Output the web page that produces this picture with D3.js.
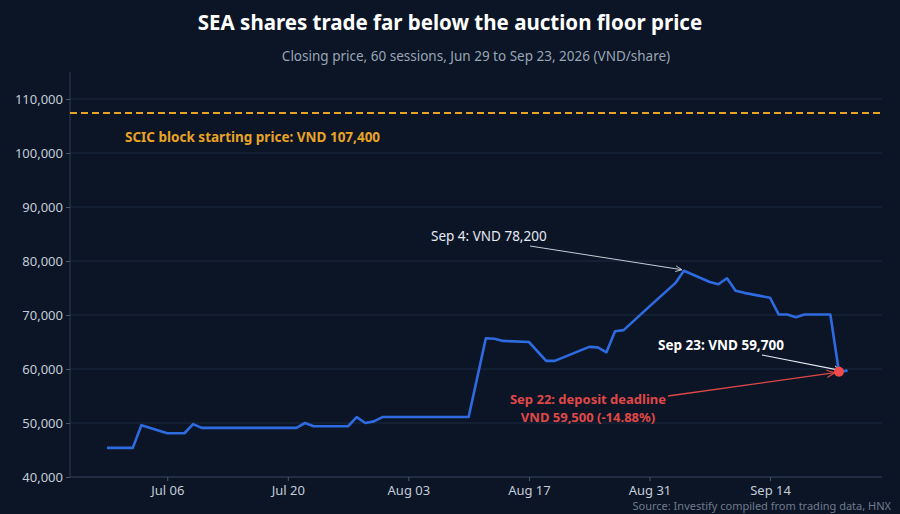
<!DOCTYPE html>
<html><head><meta charset="utf-8">
<script src="https://cdn.jsdelivr.net/npm/d3@7"></script>
<style>body{margin:0;background:#0b1526;font-family:"Noto Sans",sans-serif;}</style>
</head><body><svg id="c" width="900" height="514"></svg>
<script>
const dates = ["2026-06-29","2026-06-30","2026-07-01","2026-07-02","2026-07-03","2026-07-06","2026-07-07","2026-07-08","2026-07-09","2026-07-10",
"2026-07-13","2026-07-14","2026-07-15","2026-07-16","2026-07-17","2026-07-20","2026-07-21","2026-07-22","2026-07-23","2026-07-24",
"2026-07-27","2026-07-28","2026-07-29","2026-07-30","2026-07-31","2026-08-03","2026-08-04","2026-08-05","2026-08-06","2026-08-07",
"2026-08-10","2026-08-12","2026-08-13","2026-08-14","2026-08-17","2026-08-19","2026-08-20","2026-08-24","2026-08-25","2026-08-26",
"2026-08-27","2026-08-28","2026-08-31","2026-09-03","2026-09-04","2026-09-07","2026-09-08","2026-09-09","2026-09-10","2026-09-11",
"2026-09-14","2026-09-15","2026-09-16","2026-09-17","2026-09-18","2026-09-21","2026-09-22","2026-09-23"];
const prices = [45400,45400,45400,45400,49600,48100,48100,48100,49800,49100,
49100,49100,49100,49100,49100,49100,49100,50000,49400,49400,
49400,51100,50000,50300,51100,51100,51100,51100,51100,51100,
51100,65700,65600,65200,65000,61500,61500,64100,64000,63100,
67000,67200,71600,75900,78200,76100,75700,76800,74500,74100,
73200,70100,70100,69600,70100,70100,59500,59700];
const yTicks = [40000,50000,60000,70000,80000,90000,100000,110000];
const xTickDates = ["2026-07-06","2026-07-20","2026-08-03","2026-08-17","2026-08-31","2026-09-14"];
const floorPrice = 107400;

const P = d3.timeParse("%Y-%m-%d");
const data = dates.map((d,i)=>({d:P(d),v:prices[i]}));
const svg = d3.select("#c");
const L=70,R=882,T=72,B=477;
const x = d3.scaleTime().domain([new Date(2026,5,24,17),new Date(2026,8,27)]).range([L,R]);
const y = d3.scaleLinear().domain([40000,115000]).range([B,T]);
const fmt = d3.format(",");

svg.append("g").selectAll("line").data(yTicks).join("line")
 .attr("x1",L).attr("x2",R).attr("y1",d=>y(d)).attr("y2",d=>y(d))
 .attr("stroke","#1c2a3e").attr("stroke-width",1);

const ya = svg.append("g").attr("transform",`translate(${L},0)`)
 .call(d3.axisLeft(y).tickValues(yTicks).tickFormat(fmt).tickSize(4).tickSizeOuter(0));
const xa = svg.append("g").attr("transform",`translate(0,${B})`)
 .call(d3.axisBottom(x).tickValues(xTickDates.map(P)).tickFormat(d3.timeFormat("%b %d")).tickSize(4).tickSizeOuter(0));
[ya,xa].forEach(a=>{a.select(".domain").attr("stroke","#2e3c52").attr("d", a===ya?`M0,${B}V${T}`:`M${L},0H${R}`);
 a.selectAll(".tick line").attr("stroke","#4a5870");
 a.selectAll("text").attr("fill","#c4ccd8").attr("font-size",13).attr("font-family","Noto Sans");});
xa.selectAll("text").attr("dy","0.82em");

svg.append("line").attr("x1",L).attr("x2",R).attr("y1",y(floorPrice)).attr("y2",y(floorPrice))
 .attr("stroke","#e8a325").attr("stroke-width",2).attr("stroke-dasharray","7,4");
svg.append("text").attr("x",125).attr("y",y(floorPrice)+29).attr("fill","#e8a325")
 .attr("font-weight","bold").attr("font-size",13.5).text("SCIC block starting price: VND 107,400");

svg.append("path").datum(data).attr("fill","none").attr("stroke","#2f6be0").attr("stroke-width",2.6)
 .attr("stroke-linejoin","round").attr("d",d3.line().x(d=>x(d.d)).y(d=>y(d.v)));

const defs=svg.append("defs");
[["aw","#c4ccd8"],["ar","#e04848"]].forEach(([id,c])=>defs.append("marker").attr("id",id).attr("viewBox","0 0 10 10")
 .attr("refX",9).attr("refY",5).attr("markerWidth",7).attr("markerHeight",7).attr("orient","auto")
 .append("path").attr("d","M0,1L9,5L0,9").attr("fill","none").attr("stroke",c).attr("stroke-width",1.3));

const peak=data[44], last=data[data.length-1], dl=data[data.length-2];
svg.append("line").attr("x1",530).attr("y1",246).attr("x2",x(peak.d)-2).attr("y2",y(peak.v)-1)
 .attr("stroke","#c4ccd8").attr("stroke-width",1).attr("marker-end","url(#aw)");
svg.append("text").attr("x",431).attr("y",241).attr("fill","#e6ebf2").attr("font-size",13.5).text("Sep 4: VND 78,200");

svg.append("line").attr("x1",762).attr("y1",355).attr("x2",x(last.d)-6).attr("y2",y(last.v))
 .attr("stroke","#e6ebf2").attr("stroke-width",1.2).attr("marker-end","url(#aw)");
svg.append("text").attr("x",658).attr("y",350).attr("fill","#ffffff").attr("font-weight","bold").attr("font-size",13.5).text("Sep 23: VND 59,700");

svg.append("line").attr("x1",668).attr("y1",396).attr("x2",x(dl.d)-4).attr("y2",y(dl.v)+1)
 .attr("stroke","#e04848").attr("stroke-width",1.3).attr("marker-end","url(#ar)");
svg.append("circle").attr("cx",x(dl.d)).attr("cy",y(dl.v)).attr("r",5).attr("fill","#f04a4a");
svg.append("text").attr("x",588).attr("y",404).attr("fill","#e04848").attr("font-weight","bold").attr("font-size",13).attr("text-anchor","middle").text("Sep 22: deposit deadline");
svg.append("text").attr("x",588).attr("y",422).attr("fill","#e04848").attr("font-weight","bold").attr("font-size",13).attr("text-anchor","middle").text("VND 59,500 (-14.88%)");

svg.append("text").attr("x",450).attr("y",30).attr("text-anchor","middle").attr("fill","#ffffff")
 .attr("font-weight","bold").attr("font-size",20.5).text("SEA shares trade far below the auction floor price");
svg.append("text").attr("x",476).attr("y",61).attr("text-anchor","middle").attr("fill","#9aa5b5")
 .attr("font-size",13.5).text("Closing price, 60 sessions, Jun 29 to Sep 23, 2026 (VND/share)");
svg.append("text").attr("x",891).attr("y",510).attr("text-anchor","end").attr("fill","#6f7b8c")
 .attr("font-size",11).text("Source: Investify compiled from trading data, HNX");
</script></body></html>
